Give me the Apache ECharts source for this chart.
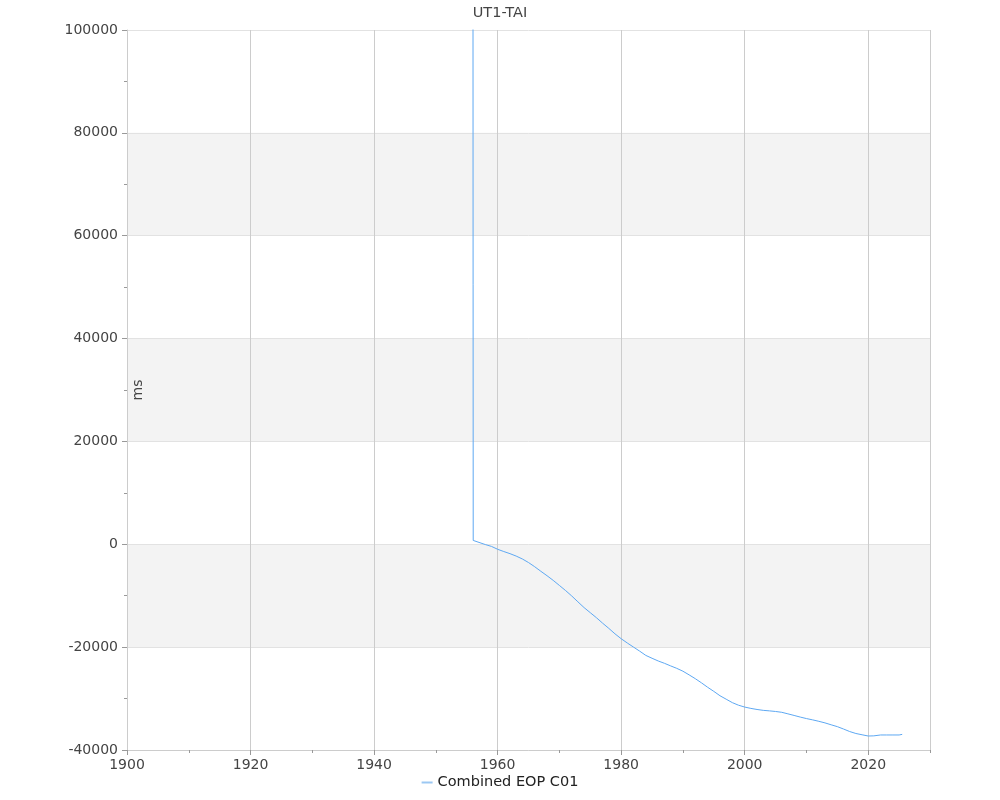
<!DOCTYPE html>
<html>
<head>
<meta charset="utf-8">
<script src="https://cdn.jsdelivr.net/npm/echarts@6/dist/echarts.min.js"></script>
<style>html,body{margin:0;padding:0;background:#fff}#c{width:1000px;height:800px}</style>
</head>
<body>
<div id="c"></div>
<script>
const title = 'UT1-TAI';
const seriesName = 'Combined EOP C01';
const yUnit = 'ms';
const years = [1956.0, 1956.05, 1958, 1959, 1960, 1961, 1962, 1963, 1964, 1965, 1966, 1967, 1968, 1969,
  1970, 1971, 1972, 1973, 1974, 1975, 1976, 1977, 1978, 1979, 1980, 1981, 1982, 1983, 1984, 1985,
  1986, 1987, 1988, 1989, 1990, 1991, 1992, 1993, 1994, 1995, 1996, 1997, 1998, 1999, 2000, 2001,
  2002, 2003, 2004, 2005, 2006, 2007, 2008, 2009, 2010, 2011, 2012, 2013, 2014, 2015, 2016, 2017,
  2018, 2019, 2020, 2020.9, 2021, 2022, 2023, 2024, 2025, 2025.5];
const values = [150000, 750, -50, -410, -970, -1410, -1820, -2290, -2850, -3550, -4360, -5250, -6110, -7020,
  -8000, -8990, -10050, -11190, -12310, -13300, -14280, -15340, -16350, -17410, -18360, -19200, -19990, -20780, -21610, -22160,
  -22690, -23140, -23640, -24120, -24680, -25390, -26130, -26940, -27800, -28600, -29450, -30120, -30790, -31290, -31650, -31910,
  -32120, -32290, -32390, -32510, -32670, -32970, -33280, -33600, -33890, -34140, -34420, -34730, -35100, -35460, -35920, -36410,
  -36790, -37040, -37280, -37250, -37080, -37080, -37080, -37080, -37080, -36960];
const xMin = 1900, xMax = 2030, xStep = 20, xMinorStep = 10;
const yMin = -40000, yMax = 100000, yStep = 20000;

const font = 'DejaVu Sans';
const plain = v => String(v);
const chart = echarts.init(document.getElementById('c'));
chart.setOption({
  animation: false,
  title: { text: title, left: 'center', top: 1, textStyle: { fontFamily: font, fontSize: 14.5, fontWeight: 'normal', color: '#444' } },
  legend: { bottom: 5, left: 'center', itemWidth: 11, itemHeight: 2, icon: 'rect', itemGap: 8,
    data: [{ name: seriesName, itemStyle: { color: '#9cc8f3' } }],
    textStyle: { fontFamily: font, fontSize: 14.5, color: '#222' } },
  grid: { left: 127, right: 70, top: 30, bottom: 50, containLabel: false },
  xAxis: [{
    type: 'value', min: xMin, max: xMax, interval: xStep, position: 'bottom',
    axisLine: { show: true, onZero: false, lineStyle: { color: '#cccccc' } },
    axisTick: { show: true, length: 5, lineStyle: { color: '#999' } },
    axisLabel: { showMaxLabel: false, margin: 8, formatter: plain, fontFamily: font, fontSize: 14, color: '#444' },
    splitLine: { show: true, lineStyle: { color: '#cccccc' } }
  }, {
    type: 'value', min: xMin, max: xMax, interval: xMinorStep, position: 'bottom',
    axisLine: { show: false, onZero: false }, axisLabel: { show: false }, splitLine: { show: false },
    axisTick: { show: true, length: 3, lineStyle: { color: '#999' } }
  }],
  yAxis: {
    type: 'value', min: yMin, max: yMax, interval: yStep,
    name: yUnit, nameLocation: 'middle', nameGap: -18, nameMoveOverlap: false,
    nameTextStyle: { fontFamily: font, fontSize: 14, color: '#444' },
    axisLine: { show: true, lineStyle: { color: '#cccccc' } },
    axisTick: { show: true, length: 5, lineStyle: { color: '#999' } },
    minorTick: { show: true, splitNumber: 2, length: 3, lineStyle: { color: '#999' } },
    axisLabel: { margin: 9, formatter: plain, fontFamily: font, fontSize: 14, color: '#444' },
    splitLine: { show: true, lineStyle: { color: '#e2e2e2' } },
    splitArea: { show: true, areaStyle: { color: ['rgba(255,255,255,0)', '#f3f3f3'] } }
  },
  series: [{
    name: seriesName, type: 'line', xAxisIndex: 0,
    data: years.map((y, i) => [y, values[i]]),
    showSymbol: false, symbol: 'none', clip: true,
    lineStyle: { width: 1, color: '#5ea8f2' }, itemStyle: { color: '#5ea8f2' }
  }]
});
</script>
</body>
</html>
